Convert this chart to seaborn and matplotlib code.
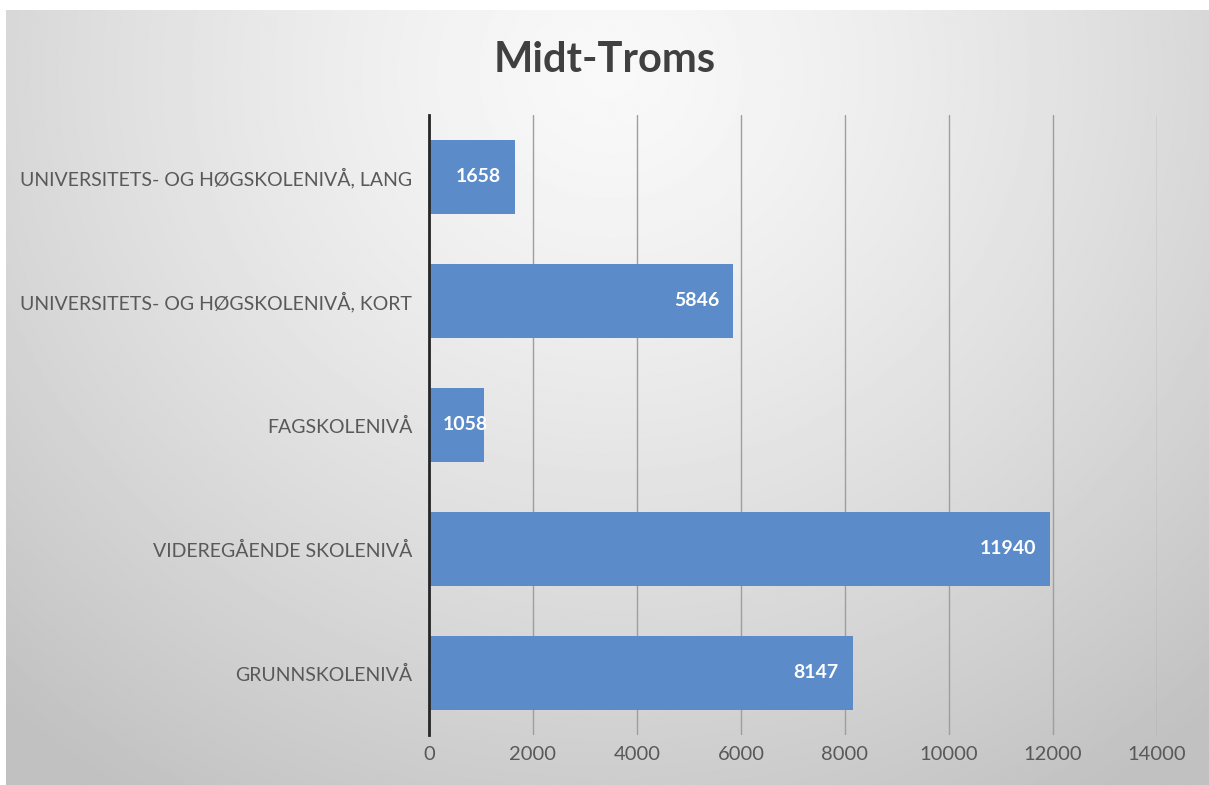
import numpy as np
import pandas as pd
import seaborn as sns
import matplotlib.pyplot as plt

# data
categories = [
    "UNIVERSITETS- OG HØGSKOLENIVÅ, LANG",
    "UNIVERSITETS- OG HØGSKOLENIVÅ, KORT",
    "FAGSKOLENIVÅ",
    "VIDEREGÅENDE SKOLENIVÅ",
    "GRUNNSKOLENIVÅ",
]
values = [1658, 5846, 1058, 11940, 8147]
xticks = [0, 2000, 4000, 6000, 8000, 10000, 12000, 14000]
title = "Midt-Troms"

df = pd.DataFrame({"niva": categories, "antall": values})

sns.set_theme(style="white")
plt.rcParams["font.family"] = ["Lato", "DejaVu Sans"]

fig = plt.figure(figsize=(12.09, 7.85), dpi=100)
fig.patch.set_facecolor("white")

# background gradient (light at top centre, grey at edges)
bg = fig.add_axes([0.005, -0.01, 1.0, 0.997], zorder=0)
yy, xx = np.mgrid[0:1:400j, 0:1:600j]
d = np.sqrt(((xx - 0.5) / 0.75) ** 2 + ((yy - 0.08) / 1.1) ** 2)
shade = 0.975 - 0.22 * np.clip(d, 0, 1) ** 1.3
bg.imshow(shade, cmap="gray", vmin=0, vmax=1, aspect="auto", extent=[0, 1, 1, 0])
bg.axis("off")

ax = fig.add_axes([429 / 1209, 1 - 735 / 785, (1157 - 429) / 1209, 620 / 785], zorder=1)
ax.patch.set_alpha(0)

sns.barplot(data=df, y="niva", x="antall", orient="h", color="#5b8bc8",
            width=0.6, saturation=1, edgecolor="none", ax=ax, zorder=3)

ax.set_xlim(0, 14000)
ax.set_ylim(4.5, -0.5)
ax.set_xticks(xticks)
ax.set_xticklabels([str(t) for t in xticks])
ax.grid(axis="x", color="#9e9e9e", linewidth=1, zorder=0)
ax.tick_params(axis="x", length=0, pad=8, labelsize=14.5, labelcolor="#595959")
ax.tick_params(axis="y", length=0, pad=12, labelsize=14, labelcolor="#595959")
ax.set_xlabel("")
ax.set_ylabel("")
for s in ["top", "right", "bottom"]:
    ax.spines[s].set_visible(False)
ax.spines["left"].set_color("#262626")
ax.spines["left"].set_linewidth(2)
ax.spines["left"].set_zorder(4)

# value labels inside the bar end; short bars get the label from the axis
for i, v in enumerate(values):
    if v < 1500:
        ax.annotate(str(v), xy=(0, i), xytext=(10, 0), textcoords="offset points",
                    ha="left", va="center", color="white", fontsize=14,
                    fontweight="bold", zorder=5)
    else:
        ax.annotate(str(v), xy=(v, i), xytext=(-10, 0), textcoords="offset points",
                    ha="right", va="center", color="white", fontsize=14,
                    fontweight="bold", zorder=5)

fig.text(0.5, 1 - 60 / 785, title, ha="center", va="center",
         fontsize=30, fontweight="bold", color="#404040")

fig.savefig("out.png", dpi=100)
